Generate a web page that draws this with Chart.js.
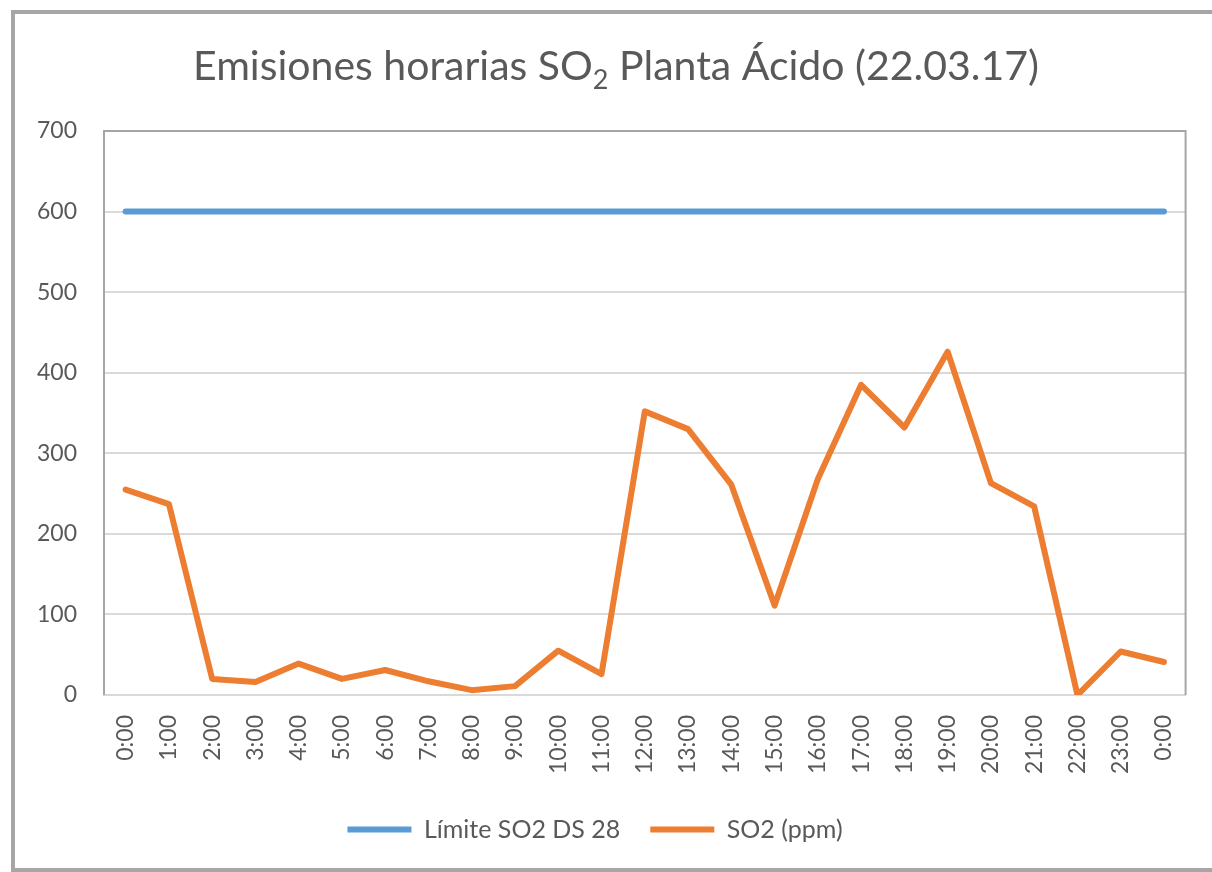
<!DOCTYPE html>
<html lang="es">
<head>
<meta charset="utf-8">
<title>Emisiones horarias SO2 Planta Ácido</title>
<script src="https://cdn.jsdelivr.net/npm/chart.js@4/dist/chart.umd.min.js"></script>
<style>
    html, body { margin: 0; padding: 0; background: #ffffff; overflow: hidden; }
    #frame {
        position: absolute;
        left: 11px;
        top: 10px;
        width: 1300px;
        height: 854px;
        border: 4px solid #a6a6a6;
    }
    #wrap {
        position: absolute;
        left: 0;
        top: 0;
        width: 1212px;
        height: 872px;
    }
</style>
</head>
<body>
<div id="frame"></div>
<div id="wrap"><canvas id="so2Chart" width="1212" height="872"></canvas></div>
<script>
// Hour labels along the x axis
const hours = ['0:00', '1:00', '2:00', '3:00', '4:00', '5:00', '6:00', '7:00', '8:00', '9:00',
    '10:00', '11:00', '12:00', '13:00', '14:00', '15:00', '16:00', '17:00', '18:00', '19:00',
    '20:00', '21:00', '22:00', '23:00', '0:00'];

// Legal limit (DS 28), constant through the day
const limitValues = [600, 600, 600, 600, 600, 600, 600, 600, 600, 600,
    600, 600, 600, 600, 600, 600, 600, 600, 600, 600,
    600, 600, 600, 600, 600];

const so2Values = [255, 237, 20, 16, 39, 20, 31, 17, 6, 11,
    55, 26, 352, 330, 261, 111, 268, 385, 332, 426,
    263, 234, 0, 54, 41];

// Y axis range
const yMin = 0;
const yMax = 700;
const yStep = 100;

const textColor = '#595959';
const fontFamily = 'Lato, "Open Sans", sans-serif';

/**
 * Title with a subscript "2" in SO2, drawn on the canvas
 */
const titlePlugin = {
    id: 'subTitle',
    afterDraw(chart) {
        const ctx = chart.ctx;
        const parts = [
            { text: 'Emisiones horarias SO', size: 41, dy: 0 },
            { text: '2', size: 27, dy: 9 },
            { text: ' Planta Ácido (22.03.17)', size: 41, dy: 0 }
        ];
        ctx.save();
        ctx.fillStyle = textColor;
        ctx.textBaseline = 'alphabetic';
        ctx.textAlign = 'left';
        let total = 0;
        parts.forEach(p => {
            ctx.font = `${p.size}px ${fontFamily}`;
            p.w = ctx.measureText(p.text).width;
            total += p.w;
        });
        let x = 616 - total / 2;
        const baseline = 80;
        parts.forEach(p => {
            ctx.font = `${p.size}px ${fontFamily}`;
            ctx.fillText(p.text, x, baseline + p.dy);
            x += p.w;
        });
        ctx.restore();
    }
};

/**
 * Grey frame around the plot area (left, top, right)
 */
const plotBorderPlugin = {
    id: 'plotBorder',
    beforeDatasetsDraw(chart) {
        const { ctx, chartArea } = chart;
        ctx.save();
        ctx.strokeStyle = '#a6a6a6';
        ctx.lineWidth = 2;
        ctx.beginPath();
        ctx.moveTo(chartArea.left, chartArea.bottom);
        ctx.lineTo(chartArea.left, chartArea.top);
        ctx.lineTo(chartArea.right, chartArea.top);
        ctx.lineTo(chartArea.right, chartArea.bottom);
        ctx.stroke();
        ctx.restore();
    }
};

new Chart(document.getElementById('so2Chart'), {
    type: 'line',
    data: {
        labels: hours,
        datasets: [
            {
                label: 'Límite SO2 DS 28',
                data: limitValues,
                borderColor: '#5b9bd5',
                backgroundColor: '#5b9bd5',
                borderWidth: 6,
                borderCapStyle: 'round',
                borderJoinStyle: 'round',
                pointRadius: 0,
                tension: 0
            },
            {
                label: 'SO2 (ppm)',
                data: so2Values,
                borderColor: '#ed7d31',
                backgroundColor: '#ed7d31',
                borderWidth: 6,
                borderCapStyle: 'round',
                borderJoinStyle: 'round',
                pointRadius: 0,
                tension: 0
            }
        ]
    },
    options: {
        responsive: false,
        animation: false,
        layout: {
            padding: { top: 131, right: 22, bottom: 20, left: 0 }
        },
        plugins: {
            title: { display: false },
            tooltip: { enabled: false },
            legend: {
                position: 'bottom',
                labels: {
                    color: textColor,
                    font: { family: fontFamily, size: 25 },
                    usePointStyle: true,
                    pointStyle: 'line',
                    pointStyleWidth: 64,
                    boxHeight: 22,
                    padding: 30
                }
            }
        },
        scales: {
            x: {
                offset: true,
                grid: { display: false, drawTicks: false },
                border: { display: true, color: '#d9d9d9', width: 2 },
                ticks: {
                    color: textColor,
                    font: { family: fontFamily, size: 23 },
                    minRotation: 90,
                    maxRotation: 90,
                    autoSkip: false,
                    padding: 20
                },
                afterFit(scale) {
                    scale.height = 92;
                }
            },
            y: {
                min: yMin,
                max: yMax,
                grid: { color: '#d9d9d9', lineWidth: 2, drawTicks: false },
                border: { display: false },
                ticks: {
                    stepSize: yStep,
                    color: textColor,
                    font: { family: fontFamily, size: 23 },
                    padding: 27
                },
                afterFit(scale) {
                    scale.width = 104;
                }
            }
        }
    },
    plugins: [titlePlugin, plotBorderPlugin]
});
</script>
</body>
</html>
